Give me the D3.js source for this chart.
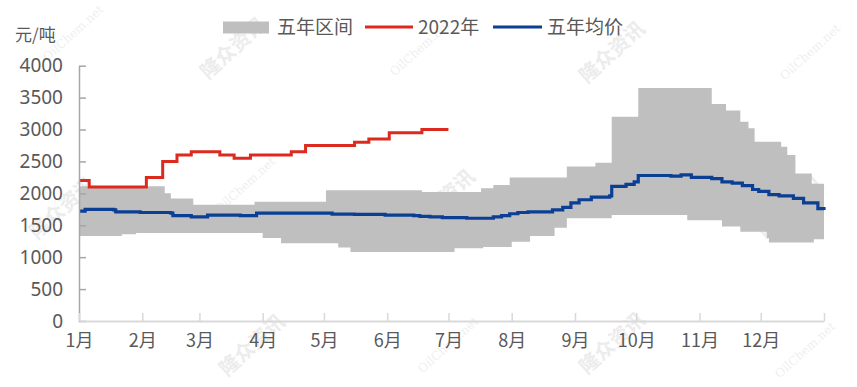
<!DOCTYPE html>
<html>
<head>
<meta charset="utf-8">
<script src="https://cdn.jsdelivr.net/npm/d3@7"></script>
<style>
  html, body { margin: 0; padding: 0; background: #fff; }
  svg { display: block; font-family: "Noto Sans CJK SC", "Microsoft YaHei", sans-serif; }
</style>
</head>
<body>
<svg id="chart" width="857" height="387"></svg>
<script>
// month labels and the day-of-year where each month starts
const months = ["1月", "2月", "3月", "4月", "5月", "6月", "7月", "8月", "9月", "10月", "11月", "12月"];
const monthStart = [0, 31, 59, 90, 120, 151, 181, 212, 243, 273, 304, 334];
const yTicks = [0, 500, 1000, 1500, 2000, 2500, 3000, 3500, 4000];

// five-year range, upper edge: [day, value] (value holds until next step)
const bandUpper = [
  [0, 2110], [42, 2000], [45, 1920], [56, 1820], [86, 1870], [121, 2050],
  [168, 2020], [197, 2080], [203, 2130], [211, 2250], [239, 2420], [253, 2480],
  [261, 3200], [274, 3650], [310, 3400], [317, 3300], [324, 3120], [328, 3020],
  [331, 2810], [344, 2730], [347, 2600], [351, 2310], [359, 2150], [365, 2150]
];
// five-year range, lower edge
const bandLower = [
  [0, 1330], [21, 1360], [28, 1380], [90, 1300], [99, 1220], [127, 1150],
  [133, 1080], [184, 1140], [198, 1160], [212, 1240], [221, 1330], [233, 1460],
  [239, 1610], [261, 1660], [298, 1580], [315, 1480], [324, 1400], [337, 1300],
  [338, 1230], [360, 1280], [365, 1280]
];
// 2022 price
const price2022 = [
  [0, 2200], [5, 2100], [33, 2250], [41, 2500], [48, 2600], [55, 2650],
  [69, 2600], [76, 2550], [84, 2600], [104, 2650], [111, 2750], [135, 2800],
  [142, 2850], [152, 2950], [168, 3000], [181, 3000]
];
// five-year average
const avg5y = [
  [0, 1720], [3, 1750], [17, 1740], [18, 1710], [30, 1700], [45, 1690],
  [46, 1650], [55, 1630], [63, 1660], [79, 1650], [87, 1690], [121, 1690],
  [124, 1675], [135, 1670], [150, 1660], [164, 1650], [167, 1640], [172, 1630],
  [178, 1620], [190, 1610], [198, 1610], [203, 1630], [207, 1650], [211, 1680],
  [215, 1700], [220, 1710], [232, 1740], [237, 1780], [241, 1850], [245, 1900],
  [251, 1940], [260, 1960], [261, 2110], [268, 2140], [272, 2180], [274, 2280],
  [285, 2280], [290, 2270], [295, 2290], [300, 2250], [310, 2230], [315, 2180],
  [320, 2160], [325, 2120], [330, 2060], [333, 2030], [338, 1980], [343, 1960],
  [350, 1920], [355, 1850], [362, 1760], [365, 1740]
];

const svg = d3.select("#chart");
const textColor = "#595959";

const x = d3.scaleLinear().domain([0, 365]).range([79, 824]);
const y = d3.scaleLinear().domain([0, 4000]).range([321, 65.7]);

// watermarks
const wm = svg.append("g").attr("pointer-events", "none");
[[233, 48], [612, 52], [62, 208], [442, 200], [790, 207], [252, 345], [612, 343]].forEach(([cx, cy]) => {
  wm.append("text")
    .attr("transform", `translate(${cx},${cy}) rotate(-42)`)
    .attr("text-anchor", "middle").attr("dy", "0.35em")
    .attr("font-size", 20).attr("font-weight", 700)
    .attr("fill", "#ececec")
    .text("隆众资讯");
});
[[73, 33], [420, 48], [810, 52], [245, 185], [448, 345], [805, 350]].forEach(([cx, cy]) => {
  wm.append("text")
    .attr("transform", `translate(${cx},${cy}) rotate(-42)`)
    .attr("text-anchor", "middle").attr("dy", "0.35em")
    .attr("font-size", 12).attr("font-family", "DejaVu Serif, serif")
    .attr("fill", "#efefef")
    .text("OilChem.net");
});

// band: expand step lists to every day
const stepAt = (steps, d) => {
  let v = steps[0][1];
  for (const s of steps) if (s[0] <= d) v = s[1];
  return v;
};
const days = d3.range(0, 366).map((d) => ({ d, lo: stepAt(bandLower, d), hi: stepAt(bandUpper, d) }));

svg.append("path")
  .datum(days)
  .attr("fill", "#bfbfbf")
  .attr("d", d3.area().curve(d3.curveStepAfter)
    .x((p) => x(p.d)).y0((p) => y(p.lo)).y1((p) => y(p.hi)));

const line = d3.line().curve(d3.curveStepAfter).x((p) => x(p[0])).y((p) => y(p[1]));

svg.append("path").datum(avg5y)
  .attr("fill", "none").attr("stroke", "#0b3f94").attr("stroke-width", 3.2)
  .attr("d", line);

svg.append("path").datum(price2022)
  .attr("fill", "none").attr("stroke", "#dc2b1e").attr("stroke-width", 3)
  .attr("d", line);

// y axis
const yAxis = svg.append("g").attr("transform", "translate(79,0)")
  .call(d3.axisLeft(y).tickValues(yTicks).tickFormat(d3.format("d"))
    .tickSizeInner(-7).tickSizeOuter(0).tickPadding(16));
yAxis.select(".domain").attr("stroke", "#a6a6a6").attr("stroke-width", 1.5);
yAxis.selectAll(".tick line").attr("stroke", "#a6a6a6").attr("stroke-width", 1.5);
yAxis.selectAll(".tick text").attr("fill", textColor).attr("font-size", 19)
  .attr("font-family", "'Noto Sans', 'Noto Sans CJK SC', sans-serif");

// x axis
const xAxis = svg.append("g").attr("transform", "translate(0,321)")
  .call(d3.axisBottom(x).tickValues(monthStart.concat([365])).tickSizeInner(-8).tickSizeOuter(0).tickPadding(13)
    .tickFormat((d) => { const i = monthStart.indexOf(d); return i >= 0 ? months[i] : ""; }));
xAxis.select(".domain").attr("stroke", "#d9d9d9").attr("stroke-width", 2);
xAxis.selectAll(".tick line").attr("stroke", "#d9d9d9").attr("stroke-width", 1.5);
xAxis.selectAll(".tick text").attr("fill", textColor).attr("font-size", 18)
  .attr("font-family", "'Noto Sans CJK SC', sans-serif");

// unit label
svg.append("text").attr("x", 15).attr("y", 41).attr("fill", textColor)
  .attr("font-size", 17).text("元/吨");

// legend
const legend = svg.append("g").attr("font-size", 19).attr("fill", textColor);
legend.append("rect").attr("x", 223).attr("y", 21.5).attr("width", 46).attr("height", 12).attr("fill", "#bfbfbf");
legend.append("text").attr("x", 277).attr("y", 34).text("五年区间");
legend.append("line").attr("x1", 365).attr("x2", 413).attr("y1", 27).attr("y2", 27)
  .attr("stroke", "#dc2b1e").attr("stroke-width", 3);
legend.append("text").attr("x", 418).attr("y", 34).text("2022年");
legend.append("line").attr("x1", 493).attr("x2", 542).attr("y1", 27).attr("y2", 27)
  .attr("stroke", "#0b3f94").attr("stroke-width", 3);
legend.append("text").attr("x", 547).attr("y", 34).text("五年均价");
</script>
</body>
</html>
